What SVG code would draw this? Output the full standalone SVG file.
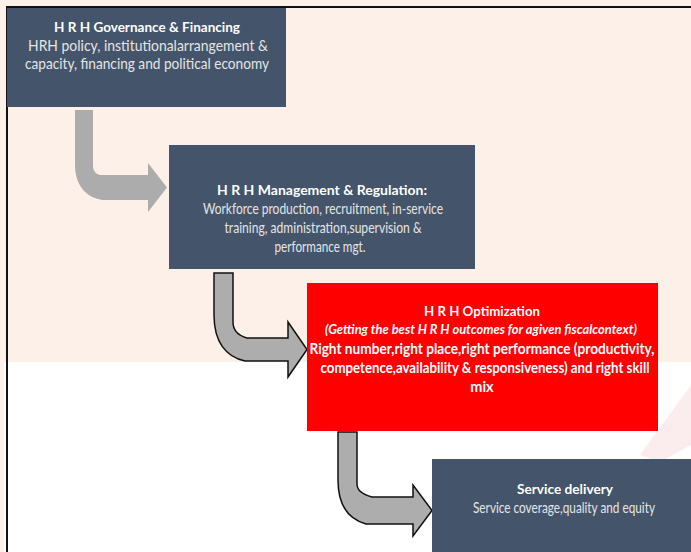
<svg xmlns="http://www.w3.org/2000/svg" width="691" height="552" viewBox="0 0 691 552">
<style>
.node{fill:#44546A}
.red{fill:#FF0000}
text{font-family:Lato,"Carlito","Liberation Sans",sans-serif;text-anchor:middle}
.t{font-weight:bold;fill:#FFFFFF;font-size:13.5px}
.b{fill:#E4E4E4;font-size:15px}
.rb{fill:#FFFFFF;font-weight:bold;font-size:14.5px}
.it{fill:#FFFFFF;font-weight:bold;font-style:italic;font-size:12.5px}
.arr{fill:#ACACAC}
.arrs{fill:#ADADAD;stroke:#111;stroke-width:1.5;stroke-linejoin:miter}
</style>
<rect x="0" y="0" width="691" height="552" fill="#FDF0E8"/>
<rect x="4" y="362" width="687" height="190" fill="#FFFFFF"/>
<polygon points="640,455 691,385 691,445 660,462" fill="#F9E6E6" opacity="0.7"/>
<path d="M7,552 V7 H691" fill="none" stroke="#111" stroke-width="2"/>

<g id="connectors">
<path class="arr" d="M75,110 H93 V166 Q93,173 100,175 H148 V163 L167,187.5 L148,212 V200 H103 C87,198 75,186 75,165 Z"/>
<path class="arrs" d="M214,273 H233 V322 Q233,334 247,338 H288 V322 L307,349.5 L288,377 V361 H245 C226,357 214,342 214,315 Z"/>
<path class="arrs" d="M338,432 H357 V484 Q357,493 372,497 H413 V485 L432,510.5 L413,536 V524 H366 C348,519 338,505 338,480 Z"/>
</g>

<g id="node-governance">
<rect class="node" x="7" y="8" width="279" height="99"/>
<text class="t" x="147" y="32" textLength="186" lengthAdjust="spacingAndGlyphs">H R H Governance &amp; Financing</text>
<text class="b" x="148" y="51" textLength="240" lengthAdjust="spacingAndGlyphs">HRH policy, institutionalarrangement &amp;</text>
<text class="b" x="147" y="69" textLength="244" lengthAdjust="spacingAndGlyphs">capacity, financing and political economy</text>
</g>

<g id="node-management">
<rect class="node" x="169" y="145" width="306" height="124"/>
<text class="t" x="322" y="195" textLength="210" lengthAdjust="spacingAndGlyphs">H R H  Management &amp; Regulation:</text>
<text class="b" x="323" y="214" textLength="240" lengthAdjust="spacingAndGlyphs">Workforce production, recruitment, in-service</text>
<text class="b" x="323" y="233" textLength="197" lengthAdjust="spacingAndGlyphs">training, administration,supervision &amp;</text>
<text class="b" x="320" y="252" textLength="91" lengthAdjust="spacingAndGlyphs">performance mgt.</text>
</g>

<g id="node-optimization">
<rect class="red" x="307" y="283" width="351" height="148"/>
<text class="t" x="482" y="316" textLength="116" lengthAdjust="spacingAndGlyphs">H R H Optimization</text>
<text class="it" x="481" y="334" textLength="312" lengthAdjust="spacingAndGlyphs">(Getting the best H R H  outcomes for agiven fiscalcontext)</text>
<text class="rb" x="482" y="354" textLength="345" lengthAdjust="spacingAndGlyphs">Right number,right place,right performance (productivity,</text>
<text class="rb" x="485" y="373" textLength="329" lengthAdjust="spacingAndGlyphs">competence,availability &amp; responsiveness) and right skill</text>
<text class="rb" x="482" y="392">mix</text>
</g>

<g id="node-service">
<rect class="node" x="432" y="459" width="259" height="93"/>
<text class="t" x="565" y="494" textLength="96" lengthAdjust="spacingAndGlyphs">Service delivery</text>
<text class="b" x="564" y="513" textLength="182" lengthAdjust="spacingAndGlyphs">Service coverage,quality and equity</text>
</g>
</svg>
